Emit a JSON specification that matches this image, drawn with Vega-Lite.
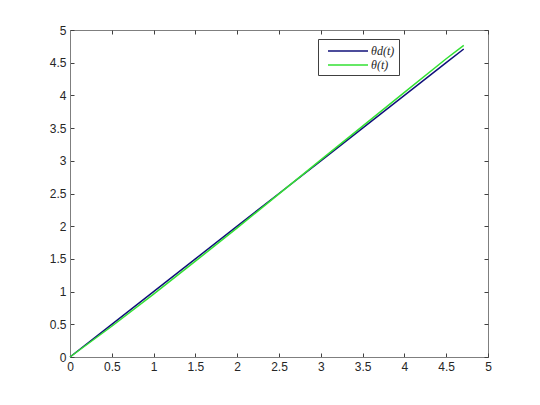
{
  "$schema": "https://vega.github.io/schema/vega-lite/v6.json",
  "autosize": "none",
  "width": 418,
  "height": 327,
  "padding": {"left": 70, "top": 30, "right": 52, "bottom": 48},
  "background": "white",
  "config": {
    "view": {"stroke": "#7f7f7f", "strokeWidth": 1},
    "axis": {
      "grid": false,
      "domainColor": "#7f7f7f",
      "tickColor": "#404040",
      "tickSize": -4,
      "labelFlush": false,
      "format": "~g",
      "labelFont": "Liberation Sans",
      "labelFontSize": 12,
      "labelColor": "#262626",
      "titleFontSize": 0
    }
  },
  "data": {
    "values": [
      {"t": 0, "v": 0, "s": "θd(t)"},
      {"t": 0.5, "v": 0.5, "s": "θd(t)"},
      {"t": 1, "v": 1, "s": "θd(t)"},
      {"t": 1.5, "v": 1.5, "s": "θd(t)"},
      {"t": 2, "v": 2, "s": "θd(t)"},
      {"t": 2.5, "v": 2.5, "s": "θd(t)"},
      {"t": 3, "v": 3, "s": "θd(t)"},
      {"t": 3.5, "v": 3.5, "s": "θd(t)"},
      {"t": 4, "v": 4, "s": "θd(t)"},
      {"t": 4.5, "v": 4.5, "s": "θd(t)"},
      {"t": 4.71, "v": 4.71, "s": "θd(t)"},
      {"t": 0, "v": 0, "s": "θ(t)"},
      {"t": 0.5, "v": 0.47, "s": "θ(t)"},
      {"t": 1, "v": 0.96, "s": "θ(t)"},
      {"t": 1.5, "v": 1.465, "s": "θ(t)"},
      {"t": 2, "v": 1.975, "s": "θ(t)"},
      {"t": 2.5, "v": 2.495, "s": "θ(t)"},
      {"t": 3, "v": 3.015, "s": "θ(t)"},
      {"t": 3.5, "v": 3.53, "s": "θ(t)"},
      {"t": 4, "v": 4.045, "s": "θ(t)"},
      {"t": 4.5, "v": 4.56, "s": "θ(t)"},
      {"t": 4.71, "v": 4.765, "s": "θ(t)"}
    ]
  },
  "resolve": {"axis": {"x": "independent", "y": "independent"}},
  "layer": [
    {
      "mark": {"type": "line", "strokeWidth": 1.5},
      "encoding": {
        "x": {"field": "t", "type": "quantitative", "scale": {"domain": [0, 5], "nice": false}, "axis": {"tickCount": 10, "title": null, "labelPadding": 8}},
        "y": {"field": "v", "type": "quantitative", "scale": {"domain": [0, 5], "nice": false}, "axis": {"tickCount": 10, "title": null, "labelPadding": 8}},
        "color": {
          "field": "s", "type": "nominal",
          "scale": {"domain": ["θd(t)", "θ(t)"], "range": ["#10107a", "#33e033"]},
          "legend": {
            "title": null,
            "orient": "none",
            "legendX": 248,
            "legendY": 9,
            "symbolType": "M-2.86,0H2.86",
            "symbolSize": 196,
            "symbolStrokeWidth": 1.5,
            "symbolOffset": 18,
            "labelOffset": 15,
            "labelExpr": "datum.label + '\u00a0\u00a0\u00a0\u00a0'",
            "labelFont": "Liberation Serif",
            "labelFontStyle": "italic",
            "labelFontSize": 12,
            "labelColor": "#262626",
            "rowPadding": 0,
            "padding": 4,
            "strokeColor": "#404040",
            "fillColor": "white"
          }
        }
      }
    },
    {
      "mark": {"type": "line", "opacity": 0},
      "encoding": {
        "x": {"field": "t", "type": "quantitative", "scale": {"domain": [0, 5], "nice": false}, "axis": {"orient": "top", "tickCount": 10, "title": null, "labels": false, "domain": false}},
        "y": {"field": "v", "type": "quantitative", "scale": {"domain": [0, 5], "nice": false}, "axis": {"orient": "right", "tickCount": 10, "title": null, "labels": false, "domain": false}},
        "detail": {"field": "s"}
      }
    }
  ]
}
